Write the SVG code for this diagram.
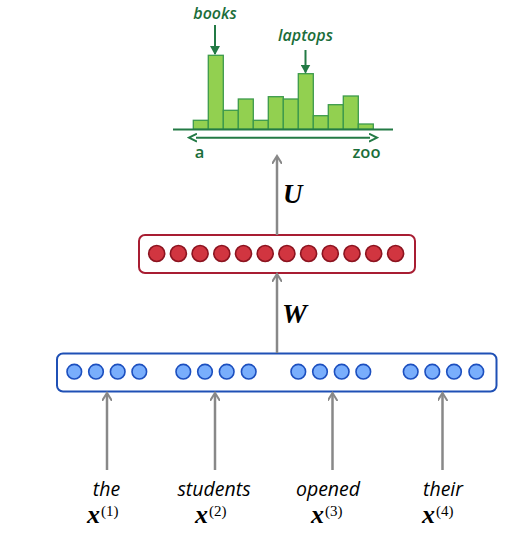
<svg xmlns="http://www.w3.org/2000/svg" width="523" height="547" viewBox="0 0 523 547">
<defs>
<style>
.bar{fill:#92d050;stroke:#3c9a4c;stroke-width:1.3}
.gtxt{font-family:"Open Sans","Liberation Sans",sans-serif;font-style:italic;font-weight:600;font-size:16px;fill:#1b6e3a;text-anchor:middle}
.gtxt2{font-family:"Open Sans","Liberation Sans",sans-serif;font-weight:600;font-size:16.5px;fill:#1b6e3a;text-anchor:middle}
.gline{stroke:#237a45;stroke-width:2;fill:none}
.garr{stroke:#888;stroke-width:2.5;fill:none}
.rc{fill:#d13540;stroke:#8c1420;stroke-width:1.6}
.bc{fill:#79aefc;stroke:#1c4fbf;stroke-width:1.6}
.word{font-family:"Open Sans","Liberation Sans",sans-serif;font-style:italic;font-weight:500;font-size:19.5px;fill:#000;text-anchor:middle}
.math{font-family:"Liberation Serif","DejaVu Serif",serif;font-style:italic;font-weight:bold;fill:#000}
.sup{font-family:"Liberation Serif","DejaVu Serif",serif;font-size:15px;fill:#000}
</style>
<marker id="ag" markerWidth="10" markerHeight="10" refX="7" refY="5" orient="auto" markerUnits="userSpaceOnUse">
<path d="M0,0 L8,5 L0,10" fill="none" stroke="#888" stroke-width="2"/>
</marker>
<marker id="agr" markerWidth="10" markerHeight="10" refX="8" refY="5" orient="auto" markerUnits="userSpaceOnUse">
<path d="M0,0 L9,5 L0,10 Z" fill="#237a45"/>
</marker>
<marker id="agr2" markerWidth="10" markerHeight="10" refX="1" refY="5" orient="auto-start-reverse" markerUnits="userSpaceOnUse">
<path d="M0,1 L8,5 L0,9" fill="none" stroke="#237a45" stroke-width="2"/>
</marker>
</defs>
<rect width="523" height="547" fill="#fff"/>

<g id="histogram">
<rect class="bar" x="193.3" y="120.3" width="15" height="9"/>
<rect class="bar" x="208.3" y="55.3" width="15" height="74"/>
<rect class="bar" x="223.3" y="110.3" width="15" height="19"/>
<rect class="bar" x="238.3" y="99" width="15" height="30.3"/>
<rect class="bar" x="253.3" y="120.3" width="15" height="9"/>
<rect class="bar" x="268.3" y="96.7" width="15" height="32.6"/>
<rect class="bar" x="283.3" y="99" width="15" height="30.3"/>
<rect class="bar" x="298.3" y="73.7" width="15" height="55.6"/>
<rect class="bar" x="313.3" y="115.7" width="15" height="13.6"/>
<rect class="bar" x="328.3" y="104.7" width="15" height="24.6"/>
<rect class="bar" x="343.3" y="96" width="15" height="33.3"/>
<rect class="bar" x="358.3" y="124" width="15" height="5.3"/>
<line class="gline" x1="173" y1="129.5" x2="393" y2="129.5"/>
<line class="gline" x1="196" y1="137.7" x2="370" y2="137.7" marker-start="url(#agr2)" marker-end="url(#agr2)"/>
<text class="gtxt2" x="199.5" y="158">a</text>
<text class="gtxt2" x="366.5" y="158">zoo</text>
</g>

<g id="label-books">
<text class="gtxt" x="215" y="19">books</text>
<line class="gline" x1="215" y1="25" x2="215" y2="54" stroke-width="1.5" marker-end="url(#agr)"/>
</g>
<g id="label-laptops">
<text class="gtxt" x="305.5" y="41">laptops</text>
<line class="gline" x1="305.5" y1="50" x2="305.5" y2="72.5" stroke-width="1.5" marker-end="url(#agr)"/>
</g>

<g id="hidden">
<rect x="139" y="235" width="276" height="38" rx="6" fill="#fff" stroke="#a81d32" stroke-width="2"/>
<circle class="rc" cx="156.7" cy="253.5" r="8"/>
<circle class="rc" cx="178.4" cy="253.5" r="8"/>
<circle class="rc" cx="200.1" cy="253.5" r="8"/>
<circle class="rc" cx="221.8" cy="253.5" r="8"/>
<circle class="rc" cx="243.5" cy="253.5" r="8"/>
<circle class="rc" cx="265.2" cy="253.5" r="8"/>
<circle class="rc" cx="286.9" cy="253.5" r="8"/>
<circle class="rc" cx="308.6" cy="253.5" r="8"/>
<circle class="rc" cx="330.3" cy="253.5" r="8"/>
<circle class="rc" cx="352" cy="253.5" r="8"/>
<circle class="rc" cx="373.7" cy="253.5" r="8"/>
<circle class="rc" cx="395.6" cy="253.5" r="8"/>
</g>

<g id="embedding">
<rect x="57" y="353.5" width="439.5" height="38" rx="6" fill="#fff" stroke="#1f50b5" stroke-width="2"/>
<circle class="bc" cx="74.3" cy="371.7" r="7.3"/>
<circle class="bc" cx="96" cy="371.7" r="7.3"/>
<circle class="bc" cx="117.7" cy="371.7" r="7.3"/>
<circle class="bc" cx="139.3" cy="371.7" r="7.3"/>
<circle class="bc" cx="183.3" cy="371.7" r="7.3"/>
<circle class="bc" cx="205" cy="371.7" r="7.3"/>
<circle class="bc" cx="226.7" cy="371.7" r="7.3"/>
<circle class="bc" cx="248.7" cy="371.7" r="7.3"/>
<circle class="bc" cx="298.3" cy="371.7" r="7.3"/>
<circle class="bc" cx="320" cy="371.7" r="7.3"/>
<circle class="bc" cx="341.7" cy="371.7" r="7.3"/>
<circle class="bc" cx="363.3" cy="371.7" r="7.3"/>
<circle class="bc" cx="410.7" cy="371.7" r="7.3"/>
<circle class="bc" cx="432.3" cy="371.7" r="7.3"/>
<circle class="bc" cx="454" cy="371.7" r="7.3"/>
<circle class="bc" cx="476.3" cy="371.7" r="7.3"/>
</g>

<g id="connectors">
<line class="garr" x1="277" y1="235" x2="277" y2="157" marker-end="url(#ag)"/>
<line class="garr" x1="277" y1="353" x2="277" y2="275" marker-end="url(#ag)"/>
<line class="garr" x1="107" y1="470" x2="107" y2="394" marker-end="url(#ag)"/>
<line class="garr" x1="215" y1="470" x2="215" y2="394" marker-end="url(#ag)"/>
<line class="garr" x1="332.5" y1="470" x2="332.5" y2="394" marker-end="url(#ag)"/>
<line class="garr" x1="442.5" y1="470" x2="442.5" y2="394" marker-end="url(#ag)"/>
<text class="math" x="283" y="203" font-size="27">U</text>
<text class="math" x="282" y="323" font-size="28">W</text>
</g>

<g id="word1">
<text class="word" x="106.5" y="496">the</text>
<text x="87" y="523"><tspan class="math" font-size="26">x</tspan><tspan class="sup" dx="1" dy="-7">(1)</tspan></text>
</g>
<g id="word2">
<text class="word" x="214" y="496">students</text>
<text x="195" y="523"><tspan class="math" font-size="26">x</tspan><tspan class="sup" dx="1" dy="-7">(2)</tspan></text>
</g>
<g id="word3">
<text class="word" x="328" y="496">opened</text>
<text x="311" y="523"><tspan class="math" font-size="26">x</tspan><tspan class="sup" dx="1" dy="-7">(3)</tspan></text>
</g>
<g id="word4">
<text class="word" x="443" y="496">their</text>
<text x="422" y="523"><tspan class="math" font-size="26">x</tspan><tspan class="sup" dx="1" dy="-7">(4)</tspan></text>
</g>
</svg>
